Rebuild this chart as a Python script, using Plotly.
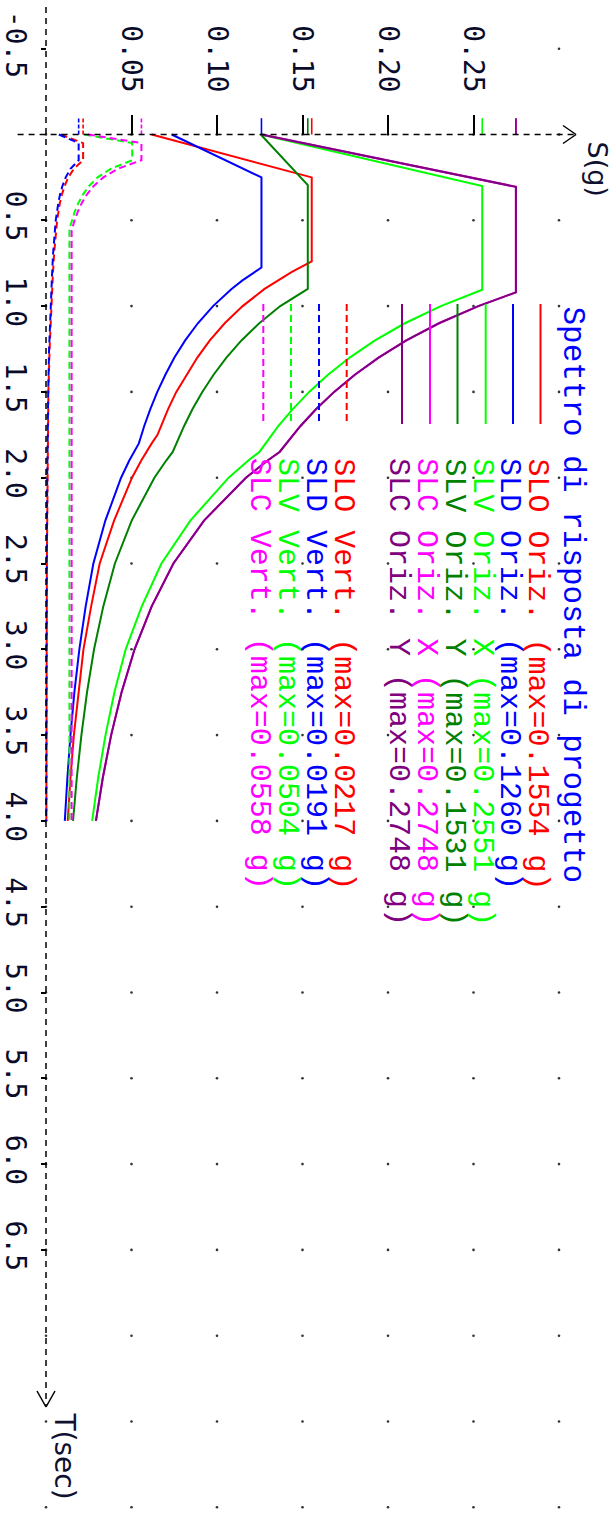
import plotly.graph_objects as go

W, H = 612, 1514

# ---------------- data ----------------
T_SLO_OR = [0.0, 0.25, 0.74, 0.80, 0.90, 1.00, 1.10, 1.20, 1.30, 1.40, 1.50, 1.60, 1.70, 1.75, 1.80, 1.90, 2.00, 2.25, 2.50, 2.75, 3.00, 3.25, 3.50, 3.75, 4.00]
S_SLO_OR = [0.0618, 0.1554, 0.1554, 0.1438, 0.1278, 0.1150, 0.1045, 0.0958, 0.0885, 0.0821, 0.0762, 0.0714, 0.0672, 0.0652, 0.0618, 0.0557, 0.0503, 0.0398, 0.0314, 0.0264, 0.0219, 0.0189, 0.0163, 0.0143, 0.0127]

T_SLD_OR = [0.0, 0.25, 0.775, 0.85, 0.90, 1.00, 1.10, 1.20, 1.30, 1.40, 1.50, 1.60, 1.70, 1.80, 1.90, 2.00, 2.25, 2.50, 2.75, 3.00, 3.25, 3.50, 3.75, 4.00]
S_SLD_OR = [0.0735, 0.1260, 0.1260, 0.1149, 0.1085, 0.0977, 0.0888, 0.0814, 0.0751, 0.0698, 0.0651, 0.0610, 0.0574, 0.0543, 0.0487, 0.0439, 0.0347, 0.0277, 0.0232, 0.0195, 0.0166, 0.0143, 0.0125, 0.0110]

T_SLV_X = [0.0, 0.30, 0.905, 1.00, 1.10, 1.20, 1.30, 1.40, 1.50, 1.60, 1.70, 1.80, 1.85, 1.90, 2.00, 2.25, 2.50, 2.75, 3.00, 3.25, 3.50, 3.75, 4.00]
S_SLV_X = [0.1256, 0.2551, 0.2551, 0.2309, 0.2099, 0.1924, 0.1776, 0.1649, 0.1539, 0.1443, 0.1358, 0.1283, 0.1248, 0.1183, 0.1068, 0.0844, 0.0675, 0.0560, 0.0466, 0.0400, 0.0348, 0.0305, 0.0270]

T_SLV_Y = [0.0, 0.295, 0.90, 1.00, 1.10, 1.20, 1.30, 1.40, 1.50, 1.60, 1.70, 1.80, 1.85, 1.90, 2.00, 2.25, 2.50, 2.75, 3.00, 3.25, 3.50, 3.75, 4.00]
S_SLV_Y = [0.1256, 0.1531, 0.1531, 0.1370, 0.1247, 0.1143, 0.1055, 0.0980, 0.0914, 0.0857, 0.0807, 0.0762, 0.0741, 0.0703, 0.0634, 0.0501, 0.0403, 0.0335, 0.0281, 0.0240, 0.0207, 0.0180, 0.0158]

T_SLC_X = [0.0, 0.305, 0.92, 1.00, 1.10, 1.20, 1.30, 1.40, 1.50, 1.60, 1.70, 1.80, 1.85, 1.90, 2.00, 2.25, 2.50, 2.75, 3.00, 3.25, 3.50, 3.75, 4.00]
S_SLC_X = [0.1260, 0.2748, 0.2748, 0.2528, 0.2298, 0.2107, 0.1945, 0.1806, 0.1685, 0.1580, 0.1487, 0.1404, 0.1366, 0.1296, 0.1169, 0.0924, 0.0745, 0.0618, 0.0518, 0.0442, 0.0381, 0.0332, 0.0292]

T_SLC_Y = [0.0, 0.305, 0.92, 1.00, 1.10, 1.20, 1.30, 1.40, 1.50, 1.60, 1.70, 1.80, 1.85, 1.90, 2.00, 2.25, 2.50, 2.75, 3.00, 3.25, 3.50, 3.75, 4.00]
S_SLC_Y = [0.1260, 0.2748, 0.2748, 0.2528, 0.2298, 0.2107, 0.1945, 0.1806, 0.1685, 0.1580, 0.1487, 0.1404, 0.1366, 0.1296, 0.1169, 0.0924, 0.0745, 0.0618, 0.0518, 0.0442, 0.0381, 0.0332, 0.0292]

T_SLO_V = [0.0, 0.05, 0.15, 0.20, 0.25, 0.30, 0.35, 0.40, 0.50, 0.60, 0.70, 0.80, 0.90, 1.00, 1.25, 1.50, 1.75, 2.00, 2.50, 3.00, 3.50, 4.00]
S_SLO_V = [0.0085, 0.0217, 0.0217, 0.0163, 0.0130, 0.0109, 0.0093, 0.0081, 0.0065, 0.0054, 0.0047, 0.0041, 0.0036, 0.0033, 0.0021, 0.0014, 0.0011, 0.0008, 0.0005, 0.0004, 0.0003, 0.0002]

T_SLD_V = [0.0, 0.05, 0.15, 0.20, 0.25, 0.30, 0.35, 0.40, 0.50, 0.60, 0.70, 0.80, 0.90, 1.00, 1.25, 1.50, 1.75, 2.00, 2.50, 3.00, 3.50, 4.00]
S_SLD_V = [0.0075, 0.0191, 0.0191, 0.0143, 0.0115, 0.0096, 0.0082, 0.0072, 0.0057, 0.0048, 0.0041, 0.0036, 0.0032, 0.0029, 0.0018, 0.0013, 0.0009, 0.0007, 0.0005, 0.0003, 0.0002, 0.0002]

T_SLV_V = [0.0, 0.05, 0.15, 0.20, 0.25, 0.30, 0.35, 0.40, 0.45, 0.50, 0.55, 4.00]
S_SLV_V = [0.0225, 0.0504, 0.0504, 0.0378, 0.0302, 0.0252, 0.0216, 0.0189, 0.0168, 0.0151, 0.0137, 0.0137]

T_SLC_V = [0.0, 0.05, 0.15, 0.20, 0.25, 0.30, 0.35, 0.40, 0.45, 0.50, 0.56, 4.00]
S_SLC_V = [0.0245, 0.0558, 0.0558, 0.0419, 0.0335, 0.0279, 0.0239, 0.0209, 0.0186, 0.0167, 0.0150, 0.0150]

S_TICKS = [0.05, 0.10, 0.15, 0.20, 0.25]
S_TICK_LABELS = ["0.05", "0.10", "0.15", "0.20", "0.25"]
T_TICKS = [-0.5, 0.5, 1.0, 1.5, 2.0, 2.5, 3.0, 3.5, 4.0, 4.5, 5.0, 5.5, 6.0, 6.5]
T_TICK_LABELS = ["-0.5", "0.5", "1.0", "1.5", "2.0", "2.5", "3.0", "3.5", "4.0", "4.5", "5.0", "5.5", "6.0", "6.5"]
S_GRID = [0.0, 0.05, 0.10, 0.15, 0.20, 0.25, 0.30]
T_GRID = [-0.5, 0.0, 0.5, 1.0, 1.5, 2.0, 2.5, 3.0, 3.5, 4.0, 4.5, 5.0, 5.5, 6.0, 6.5, 7.0, 7.5, 8.0]

TITLE = "Spettro di risposta di progetto"
SERIES = [
    # name, T, S, color, dashed
    ("SLO Oriz.", T_SLO_OR, S_SLO_OR, "#FF0000", False),
    ("SLD Oriz.", T_SLD_OR, S_SLD_OR, "#0000FF", False),
    ("SLV Oriz. X", T_SLV_X, S_SLV_X, "#00FF00", False),
    ("SLV Oriz. Y", T_SLV_Y, S_SLV_Y, "#008000", False),
    ("SLC Oriz. X", T_SLC_X, S_SLC_X, "#FF00FF", False),
    ("SLC Oriz. Y", T_SLC_Y, S_SLC_Y, "#800080", False),
    ("SLO Vert.", T_SLO_V, S_SLO_V, "#FF0000", True),
    ("SLD Vert.", T_SLD_V, S_SLD_V, "#0000FF", True),
    ("SLV Vert.", T_SLV_V, S_SLV_V, "#00FF00", True),
    ("SLC Vert.", T_SLC_V, S_SLC_V, "#FF00FF", True),
]

# ---------------- layout calibration (pixels) ----------------
X0_PX, PX_PER_G = 46.0, 1710.0      # S = 0 at x=46 px
Y0_PX, PX_PER_S = 134.5, 171.6      # T = 0 at y=134.5 px
S_RANGE = [(0 - X0_PX) / PX_PER_G, (W - X0_PX) / PX_PER_G]
T_RANGE = [(H - Y0_PX) / PX_PER_S, (0 - Y0_PX) / PX_PER_S]


def sx(px):
    return (px - X0_PX) / PX_PER_G


def ty(py):
    return (py - Y0_PX) / PX_PER_S


DASH = "7px,4px"
fig = go.Figure()

# grid dots
gx, gy = [], []
for t in T_GRID:
    for s in S_GRID:
        if t < 0 and s < S_GRID[-1]:
            continue
        gx.append(s)
        gy.append(t)
fig.add_trace(go.Scatter(x=gx, y=gy, mode="markers",
                         marker=dict(size=2.6, color="#333333"),
                         hoverinfo="skip", showlegend=False))

# curves
for name, T, S, col, dashed in SERIES:
    fig.add_trace(go.Scatter(
        x=S, y=T, mode="lines", name=name,
        line=dict(color=col, width=2, dash=DASH if dashed else "solid"),
        showlegend=False))

# max markers on the S axis
for name, T, S, col, dashed in SERIES:
    m = max(S)
    fig.add_trace(go.Scatter(
        x=[m, m], y=[0, -0.095], mode="lines",
        line=dict(color=col, width=1.6, dash="4px,2px" if dashed else "solid"),
        hoverinfo="skip", showlegend=False))

shapes = []
# dashed axes
shapes.append(dict(type="line", xref="x", yref="y", x0=sx(17.6), x1=sx(575), y0=0, y1=0,
                   line=dict(color="black", width=1.5, dash="6px,5px")))
shapes.append(dict(type="line", xref="x", yref="y", x0=0, x1=0, y0=ty(7), y1=ty(1405),
                   line=dict(color="black", width=1.5, dash="6px,5px")))
# arrow heads
ax_tip = (576, Y0_PX)
for dy in (-9, 9):
    shapes.append(dict(type="line", xref="x", yref="y", x0=sx(ax_tip[0] - 13), y0=ty(ax_tip[1] + dy),
                       x1=sx(ax_tip[0]), y1=ty(ax_tip[1]), line=dict(color="black", width=1.5)))
ay_tip = (X0_PX, 1407)
for dx in (-9, 9):
    shapes.append(dict(type="line", xref="x", yref="y", x0=sx(ay_tip[0] + dx), y0=ty(ay_tip[1] - 16),
                       x1=sx(ay_tip[0]), y1=ty(ay_tip[1]), line=dict(color="black", width=1.5)))

# custom legend
LEG_X = [540.5, 513.0, 485.7, 457.5, 430.0, 402.0, 346.7, 319.0, 291.0, 263.3]
annotations = []
for (name, T, S, col, dashed), lx in zip(SERIES, LEG_X):
    shapes.append(dict(type="line", xref="paper", yref="paper",
                       x0=lx / W, x1=lx / W, y0=1 - 304 / H, y1=1 - 424 / H,
                       line=dict(color=col, width=2, dash=DASH if dashed else "solid")))
    annotations.append(dict(
        text=f"{name} (max={max(S):.4f} g)", xref="paper", yref="paper",
        x=(lx - 4) / W, y=1 - 456 / H, xanchor="center", yanchor="top",
        textangle=90, showarrow=False,
        font=dict(family="Liberation Mono, Courier New, monospace", size=30, color=col)))

annotations.append(dict(
    text=TITLE, xref="paper", yref="paper", x=(574 - 2) / W, y=1 - 304 / H,
    xanchor="center", yanchor="top", textangle=90, showarrow=False,
    font=dict(family="Liberation Mono, Courier New, monospace", size=31, color="#0000FF")))

annotations.append(dict(
    text="S(g)", xref="paper", yref="paper", x=597 / W, y=1 - 139 / H,
    xanchor="center", yanchor="top", textangle=90, showarrow=False,
    font=dict(family="DejaVu Sans", size=27, color="#101030")))
annotations.append(dict(
    text="T(sec)", xref="paper", yref="paper", x=64 / W, y=1 - 1410 / H,
    xanchor="center", yanchor="top", textangle=90, showarrow=False,
    font=dict(family="DejaVu Sans", size=28, color="#101030")))

fig.update_layout(
    width=W, height=H, autosize=False,
    margin=dict(l=0, r=0, t=0, b=0, pad=0),
    paper_bgcolor="white", plot_bgcolor="white",
    showlegend=False,
    shapes=shapes, annotations=annotations,
    xaxis=dict(range=S_RANGE, side="top", anchor="free", position=1 - Y0_PX / H,
               showgrid=False, zeroline=False, showline=False,
               tickvals=S_TICKS, ticktext=S_TICK_LABELS, tickangle=90,
               ticks="outside", ticklen=20, tickwidth=1.5, tickcolor="black",
               ticklabelstandoff=12,
               tickfont=dict(family="DejaVu Sans Mono", size=28, color="#0a0a2a")),
    yaxis=dict(range=T_RANGE, side="left", anchor="free", position=X0_PX / W,
               showgrid=False, zeroline=False, showline=False,
               tickvals=T_TICKS, ticktext=T_TICK_LABELS, tickangle=90,
               ticks="outside", ticklen=5, tickwidth=1.5, tickcolor="black",
               ticklabelstandoff=1,
               tickfont=dict(family="DejaVu Sans Mono", size=28, color="#0a0a2a")),
)

fig.write_html("out.html", config={"displayModeBar": False},
               post_script="document.body.style.margin='0px';")
